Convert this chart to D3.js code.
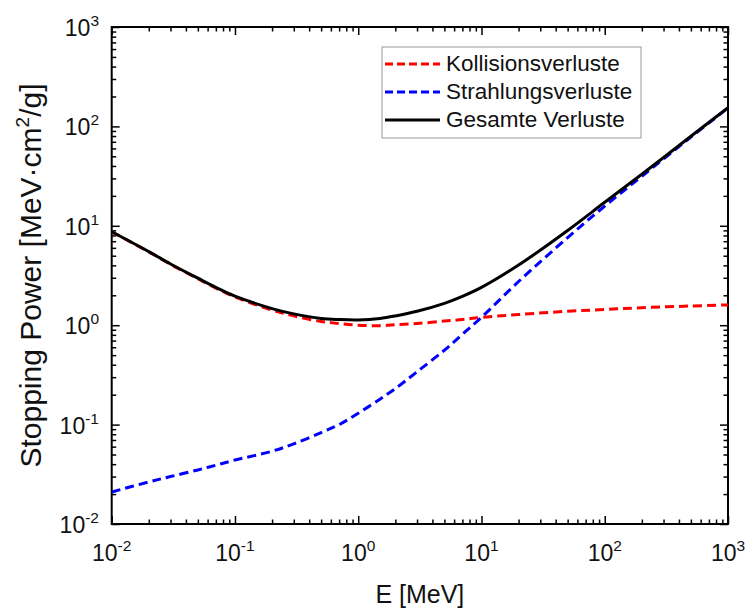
<!DOCTYPE html>
<html>
<head>
<meta charset="utf-8">
<script src="https://cdn.jsdelivr.net/npm/d3@7/dist/d3.min.js"></script>
<style>
  html, body { margin: 0; padding: 0; background: #fff; }
  svg { display: block; font-family: "Liberation Sans", Arial, sans-serif; }
</style>
</head>
<body>
<svg id="chart" width="753" height="610"></svg>
<script>
// ---- Data ----
const energies = [0.01, 0.02, 0.03, 0.05, 0.07, 0.1, 0.2, 0.3, 0.5, 0.7, 1, 1.5, 2, 3, 5, 7, 10, 20, 50, 100, 200, 500, 1000];
const collision = [8.7, 5.47, 4.1, 2.93, 2.36, 1.92, 1.42, 1.24, 1.09, 1.04, 1.0, 0.99, 1.01, 1.04, 1.1, 1.14, 1.2, 1.28, 1.38, 1.44, 1.5, 1.56, 1.6];
const radiative = [0.021, 0.0265, 0.030, 0.035, 0.039, 0.044, 0.054, 0.064, 0.083, 0.1, 0.13, 0.18, 0.23, 0.34, 0.56, 0.81, 1.2, 2.75, 7.6, 15.8, 31.5, 78, 153];
const total = [8.72, 5.50, 4.13, 2.97, 2.40, 1.96, 1.47, 1.30, 1.17, 1.14, 1.13, 1.17, 1.24, 1.38, 1.66, 1.95, 2.40, 4.03, 8.98, 17.24, 33.0, 79.6, 154.6];
const seriesNames = ["Kollisionsverluste", "Strahlungsverluste", "Gesamte Verluste"];
const xTickExps = [-2, -1, 0, 1, 2, 3];
const yTickExps = [-2, -1, 0, 1, 2, 3];
const xTitle = "E [MeV]";
const yTitleMain = "Stopping Power [MeV·cm";
const yTitleSup = "2";
const yTitleEnd = "/g]";

// ---- Layout ----
const L = 111.7, R = 728, T = 27, B = 524;
const svg = d3.select("#chart");
const x = d3.scaleLog().domain([0.01, 1000]).range([L, R]);
const y = d3.scaleLog().domain([0.01, 1000]).range([B, T]);

const majors = d3.range(-2, 4).map(e => Math.pow(10, e));
const minors = [];
for (let e = -2; e < 3; e++) for (let m = 2; m <= 9; m++) minors.push(m * Math.pow(10, e));

function drawTicks(axisGen, translate, vals, size) {
  const g = svg.append("g").attr("transform", translate)
    .call(axisGen.tickValues(vals).tickSize(size).tickSizeOuter(0).tickFormat(""));
  g.select(".domain").remove();
  g.selectAll(".tick line").attr("stroke", "#000").attr("stroke-width", 1.5);
  return g;
}
// inward ticks on all four sides
drawTicks(d3.axisBottom(x), `translate(0,${B})`, majors, -8);
drawTicks(d3.axisBottom(x), `translate(0,${B})`, minors, -4.5);
drawTicks(d3.axisTop(x), `translate(0,${T})`, majors, -8);
drawTicks(d3.axisTop(x), `translate(0,${T})`, minors, -4.5);
drawTicks(d3.axisLeft(y), `translate(${L},0)`, majors, -8);
drawTicks(d3.axisLeft(y), `translate(${L},0)`, minors, -4.5);
drawTicks(d3.axisRight(y), `translate(${R},0)`, majors, -8);
drawTicks(d3.axisRight(y), `translate(${R},0)`, minors, -4.5);

// frame
svg.append("rect").attr("x", L).attr("y", T).attr("width", R - L).attr("height", B - T)
  .attr("fill", "none").attr("stroke", "#000").attr("stroke-width", 2);

// tick labels
xTickExps.forEach(e => {
  const t = svg.append("text").attr("x", x(Math.pow(10, e))).attr("y", 561)
    .attr("text-anchor", "middle").attr("font-size", 23).attr("fill", "#111");
  t.append("tspan").text("10");
  t.append("tspan").attr("dy", -10).attr("font-size", 15.5).text(String(e));
});
yTickExps.forEach(e => {
  const t = svg.append("text").attr("x", 99).attr("y", y(Math.pow(10, e)) + 9)
    .attr("text-anchor", "end").attr("font-size", 23).attr("fill", "#111");
  t.append("tspan").text("10");
  t.append("tspan").attr("dy", -10).attr("font-size", 15.5).text(String(e));
});

// axis titles
svg.append("text").attr("x", (L + R) / 2).attr("y", 603).attr("text-anchor", "middle")
  .attr("font-size", 25).attr("fill", "#111").text(xTitle);
const yt = svg.append("text").attr("transform", `translate(41,${(78 + 473) / 2}) rotate(-90)`)
  .attr("text-anchor", "middle").attr("font-size", 30).attr("fill", "#111");
yt.append("tspan").text(yTitleMain);
yt.append("tspan").attr("dy", -12).attr("font-size", 19).text(yTitleSup);
yt.append("tspan").attr("dy", 12).text(yTitleEnd);

// curves
svg.append("clipPath").attr("id", "clip").append("rect")
  .attr("x", L).attr("y", T).attr("width", R - L).attr("height", B - T);
const line = d3.line().x(d => x(d[0])).y(d => y(d[1])).curve(d3.curveCatmullRom.alpha(0.5));
const styles = [
  { data: collision, color: "#ff0000", dash: "9,5" },
  { data: radiative, color: "#0000ff", dash: "9,5" },
  { data: total, color: "#000000", dash: null }
];
const plotG = svg.append("g").attr("clip-path", "url(#clip)");
styles.forEach(s => {
  plotG.append("path").datum(energies.map((e, i) => [e, s.data[i]]))
    .attr("d", line).attr("fill", "none").attr("stroke", s.color)
    .attr("stroke-width", 3).attr("stroke-dasharray", s.dash);
});

// legend
const lg = svg.append("g");
lg.append("rect").attr("x", 382).attr("y", 47).attr("width", 259).attr("height", 91)
  .attr("fill", "#fff").attr("stroke", "#999").attr("stroke-width", 1);
const rowsY = [64, 92, 120];
styles.forEach((s, i) => {
  lg.append("line").attr("x1", 385).attr("x2", 440).attr("y1", rowsY[i]).attr("y2", rowsY[i])
    .attr("stroke", s.color).attr("stroke-width", 3).attr("stroke-dasharray", s.dash ? "8,4" : null);
  lg.append("text").attr("x", 446).attr("y", rowsY[i] + 7).attr("font-size", 22.5)
    .attr("fill", "#111").text(seriesNames[i]);
});
</script>
</body>
</html>
